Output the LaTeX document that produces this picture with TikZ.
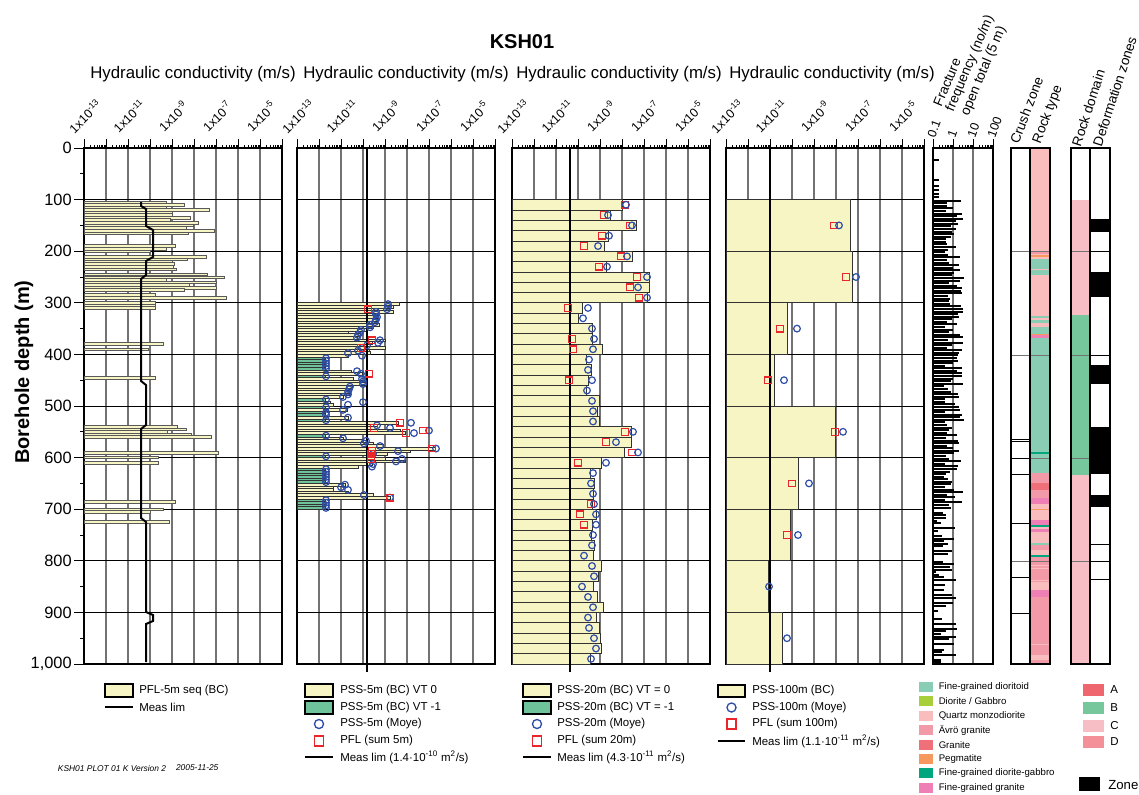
\documentclass[tikz,border=0pt]{standalone}
\usepackage{fontspec}
\setmainfont{Liberation Sans}
\definecolor{barY}{HTML}{F8F5C5}
\definecolor{barG}{HTML}{6FC39A}
\definecolor{moyeC}{HTML}{2E4DA7}
\definecolor{pflC}{HTML}{E8262C}
\definecolor{rFGD}{HTML}{88CDB4}
\definecolor{rDG}{HTML}{A8CE3C}
\definecolor{rQM}{HTML}{F9BDBD}
\definecolor{rAV}{HTML}{F29AA8}
\definecolor{rGR}{HTML}{F07079}
\definecolor{rPG}{HTML}{F7985E}
\definecolor{rFDG}{HTML}{00A67E}
\definecolor{rFGG}{HTML}{EE80B6}
\definecolor{dA}{HTML}{F0666E}
\definecolor{dB}{HTML}{76C89C}
\definecolor{dC}{HTML}{F7BEC5}
\definecolor{dD}{HTML}{F49098}
\newcommand\fTitle{\fontsize{15pt}{18pt}\selectfont\bfseries}
\newcommand\fHead{\fontsize{12.6pt}{15pt}\selectfont}
\newcommand\fTick{\fontsize{9.3pt}{11pt}\selectfont}
\newcommand\fDepth{\fontsize{12.3pt}{14pt}\selectfont}
\newcommand\fAxis{\fontsize{15pt}{18pt}\selectfont\bfseries}
\newcommand\fLeg{\fontsize{8.6pt}{10pt}\selectfont}
\newcommand\fRock{\fontsize{7.2pt}{9pt}\selectfont}
\newcommand\fCol{\fontsize{10.2pt}{12pt}\selectfont}
\newcommand\fFoot{\fontsize{6.3pt}{8pt}\selectfont\itshape}
\tikzset{
  gridv/.style={draw=black!55,line width=0.8pt},
  gridh/.style={draw=black,line width=0.5pt},
  framebox/.style={draw=black,line width=0.8pt},
  pflbar/.style={fill=barY,draw=black!65,line width=0.35pt},
  pssy/.style={fill=barY,draw=black!80,line width=0.5pt},
  pssg/.style={fill=barG,draw=black!80,line width=0.5pt},
  moye/.style={draw=moyeC,line width=0.9pt},
  pflsq/.style={draw=pflC,line width=0.9pt},
  measlim/.style={draw=black,line width=1.6pt},
  lbl/.style={font=\fLeg,anchor=west,inner sep=0pt},
  rlbl/.style={font=\fRock,anchor=west,inner sep=0pt},
  coltxt/.style={font=\fCol,rotate=72,anchor=west,inner sep=0pt},
  legbox/.style={draw=black,line width=0.8pt},
}
\begin{document}
\begin{tikzpicture}[x=0.75pt,y=-0.75pt]
\useasboundingbox (0,0) rectangle (1139,794);

% ---------- titles ----------
\node[font=\fTitle] (title) at (522,42) {KSH01};
\foreach \hx/\hn in {193/1,406/2,619/3,832/4}
  \node[font=\fHead] (head-\hn) at (\hx,74) {Hydraulic conductivity (m/s)};

% ---------- hydraulic panels: grid, ticks, labels ----------
\foreach \px/\pn in {84/1,297/2,512/3,726/4} {
  \foreach \k in {1,...,8} \draw[gridv] ({\px+22*\k},148) -- ({\px+22*\k},664);
  \foreach \d in {100,200,...,900} \draw[gridh] (\px,{148+0.516*\d}) -- ({\px+198},{148+0.516*\d});
  \draw[framebox] (\px,148) rectangle ({\px+198},664);
  \foreach \k in {0,...,9} {
    \draw[line width=0.6pt] ({\px+22*\k},148) -- ({\px+22*\k},139);
  }
  \foreach \k in {0,...,8} {
    \foreach \m in {2,...,9}
      \draw[line width=0.4pt] ({\px+22*\k+22*log10(\m)},148) -- ({\px+22*\k+22*log10(\m)},144.5);
  }
  \foreach \j/\e in {0/13,1/11,2/9,3/7,4/5}
    \node[font=\fTick,rotate=45,inner sep=0pt] (tl-\pn-\j) at ({\px+44*\j+1},116) {1x10\textsuperscript{-\e}};
}

% ---------- depth axis ----------
\foreach \d in {0,100,...,1000} \draw[line width=0.6pt] (74,{148+0.516*\d}) -- (84,{148+0.516*\d});
\foreach \d in {50,150,...,950} \draw[line width=0.6pt] (80,{148+0.516*\d}) -- (84,{148+0.516*\d});
\foreach \d/\t in {0/0,100/100,200/200,300/300,400/400,500/500,600/600,700/700,800/800,900/900,1000/{1,000}}
  \node[font=\fDepth,anchor=east,inner sep=0pt] (dl-\d) at (72,{148+0.516*\d}) {\t};
\node[font=\fAxis,rotate=90] (ylab) at (24,372) {Borehole depth (m)};

% ---------- panel 1: PFL-5m ----------
\foreach \y/\xe in {202.3/166,205/184,207.3/166,210/209,212.7/172,215/172,217.7/190,220/170,222.7/198,225.3/193,227.7/186,230.7/214,233.3/188,246/175,248.7/166,251.3/150,256.7/206,259.3/187,261.7/172,264/174,266.7/173,269.3/176,274.3/207,277.3/224,280/166,282.3/216,285/189,287.7/216,290/184,295/155,297.7/226,303/155,305.3/155,308/155,344/163,349.3/148,377.7/155,426.7/177,429.3/186,432/167,434.3/191,437/211,452.7/218,457.3/158,462.7/158,502/175,509.3/163,512/150,522/169}
  \draw[pflbar] (84,{\y-1.3}) rectangle (\xe,{\y+1.3});
\draw[line width=1.5pt] (141,202) -- (141,206) -- (146,209) -- (146,226) -- (153,230) -- (153,257) -- (146,261) -- (146,275) -- (141,279) -- (141,381) -- (146,385) -- (146,425) -- (141,429) -- (141,518) -- (146,522) -- (146,612) -- (153,615) -- (153,621) -- (146,624) -- (146,662);

% ---------- panel 2: PSS-5m ----------
\foreach \i/\xe in {0/399,1/393,2/390,3/393,4/379,5/378,6/378,7/369,8/379,9/373,10/367,11/348,12/360,13/357,14/385,15/372,16/367,17/385,18/369,19/370,20/348,26/351,27/362,29/353,30/362,31/367,32/352,33/349,34/348,35/350,36/343,38/330,39/333,41/347,44/348,46/398,47/370,48/377,49/400,50/405,52/343,53/362,54/373,55/383,56/435,57/410,58/387,60/385,61/405,62/372,63/358,70/345,71/333,72/333,73/348,74/373,75/390}
  \draw[pssy] (297,{302.8+2.58*\i}) rectangle (\xe,{302.8+2.58*(\i+1)});
\foreach \i in {21,22,23,24,25,28,37,40,42,43,45,51,59,64,65,66,67,68,69,76,77,78,79}
  \draw[pssg] (297,{302.8+2.58*\i}) rectangle (325,{302.8+2.58*(\i+1)});
\draw[measlim] (367,148) -- (367,672);
\foreach \i/\xc in {0/388,1/388,2/387,3/376,4/376,5/377,6/376,7/375,8/370,9/370,10/361,11/360,12/358,13/357,14/380,15/378,16/367,17/362,18/358,19/348,20/362,21/326,22/326,23/326,24/326,25/326,26/357,27/361,28/326,29/362,30/363,31/363,32/350,33/349,34/348,35/348,36/343,37/326,38/363,39/348,40/326,41/343,42/326,43/326,44/348,45/326,46/411,47/377,48/390,49/429,50/414,51/326,52/343,53/366,54/364,55/380,56/436,57/398,58/373,59/326,60/402,61/396,62/373,63/372,64/326,65/326,66/326,67/326,68/326,69/326,70/345,71/341,72/348,74/364,75/390,76/326,77/326,78/326,79/326}
  \draw[moye] (\xc,{302.8+2.58*\i+1.29}) circle (2.5pt);
\foreach \i/\xs in {2/368,14/372,17/361,27/369,46/400,48/374,49/423,50/406,56/432,57/372,58/371,59/371,60/371,75/390}
  \draw[pflsq] ({\xs-3.3},{302.8+2.58*\i+1.29-3.3}) rectangle ({\xs+3.3},{302.8+2.58*\i+1.29+3.3});

% ---------- panel 3: PSS-20m ----------
\foreach \i/\xe/\xc/\xs in {0/622/626/625,1/610/608/604,2/636/632/630,3/608/609/602,4/604/598/584,5/632/627/621,6/606/607/599,7/649/647/637,8/649/638/630,9/647/647/639,10/582/588/568,11/578/583/0,12/592/592/0,13/592/594/572,14/602/593/573,15/586/589/0,16/591/588/0,17/588/592/569,18/586/587/0,19/599/592/0,20/597/593/0,21/599/593/0,22/631/633/625,23/631/616/606,24/624/638/632,25/601/606/578,26/590/593/0,27/594/591/0,28/593/593/0,29/592/594/591,30/596/596/580,31/592/596/584,32/591/593/0,33/594/592/0,34/593/584/0,35/601/592/0,36/598/594/0,37/593/582/0,38/597/588/0,39/603/593/0,40/596/588/0,41/599/589/0,42/600/594/0,43/601/596/0,44/590/591/0}
  \draw[pssy] (512,{199.6+10.32*\i}) rectangle (\xe,{199.6+10.32*(\i+1)});
\draw[measlim] (570,148) -- (570,672);
\foreach \i/\xe/\xc/\xs in {0/622/626/625,1/610/608/604,2/636/632/630,3/608/609/602,4/604/598/584,5/632/627/621,6/606/607/599,7/649/647/637,8/649/638/630,9/647/647/639,10/582/588/568,11/578/583/0,12/592/592/0,13/592/594/572,14/602/593/573,15/586/589/0,16/591/588/0,17/588/592/569,18/586/587/0,19/599/592/0,20/597/593/0,21/599/593/0,22/631/633/625,23/631/616/606,24/624/638/632,25/601/606/578,26/590/593/0,27/594/591/0,28/593/593/0,29/592/594/591,30/596/596/580,31/592/596/584,32/591/593/0,33/594/592/0,34/593/584/0,35/601/592/0,36/598/594/0,37/593/582/0,38/597/588/0,39/603/593/0,40/596/588/0,41/599/589/0,42/600/594/0,43/601/596/0,44/590/591/0} {
  \ifnum\xs>0
    \draw[pflsq] ({\xs-3.3},{199.6+10.32*\i+5.16-3.3}) rectangle ({\xs+3.3},{199.6+10.32*\i+5.16+3.3});
  \fi
  \draw[moye] (\xc,{199.6+10.32*\i+5.16}) circle (2.5pt);
}

% ---------- panel 4: PSS-100m ----------
\foreach \i/\xe in {0/850,1/852,2/787,3/774,4/835,5/798,6/790,7/768,8/782}
  \draw[pssy,line width=0.7pt] (726,{199.6+51.6*\i}) rectangle (\xe,{199.6+51.6*(\i+1)});
\draw[measlim] (770,148) -- (770,672);
\foreach \i/\xc/\xs in {0/839/834,1/856/846,2/797/780,3/784/768,4/843/835,5/809/792,6/798/787,7/769/0,8/787/0} {
  \ifnum\xs>0
    \draw[pflsq] ({\xs-3.3},{199.6+51.6*\i+25.8-3.3}) rectangle ({\xs+3.3},{199.6+51.6*\i+25.8+3.3});
  \fi
  \draw[moye] (\xc,{199.6+51.6*\i+25.8}) circle (2.5pt);
}

% ---------- fracture frequency ----------
\draw[gridv] (953,148) -- (953,664);
\draw[gridv] (973,148) -- (973,664);
\foreach \y in {159,179,185,189,193,196}
  \fill (933,\y) rectangle (939,{\y+2});
\pgfmathsetseed{7}
\foreach \d in {100,105,...,695} {
  \pgfmathsetmacro{\L}{11+20*rnd}
  \fill (933,{148+0.516*\d}) rectangle ({933+\L},{148+0.516*\d+2});
}
\foreach \d in {700,705,...,995} {
  \pgfmathsetmacro{\R}{rnd}
  \pgfmathsetmacro{\L}{3+21*rnd}
  \ifdim\R pt>0.22pt
    \fill (933,{148+0.516*\d}) rectangle ({933+\L},{148+0.516*\d+2});
  \fi
}
\draw[framebox] (933,148) rectangle (993,664);
\foreach \k in {0,...,3} \draw[line width=0.6pt] ({933+20*\k},148) -- ({933+20*\k},139);
\foreach \k in {0,...,2} {
  \foreach \m in {2,...,9}
    \draw[line width=0.4pt] ({933+20*\k+20*log10(\m)},148) -- ({933+20*\k+20*log10(\m)},144.5);
}
\foreach \k/\t in {0/0.1,1/1,2/10,3/100}
  \node[font=\fTick,rotate=70,anchor=west,inner sep=0pt] (fl-\k) at ({931+20*\k},137) {\t};
\node[coltxt,rotate=-5] (ff1) at (937,106) {Fracture};
\node[coltxt,rotate=-5] (ff2) at (950,111) {frequency (no/m)};
\node[coltxt,rotate=-5] (ff3) at (965,115) {open total (5 m)};

% ---------- rock type ----------
\foreach \a/\b/\c in {149/252/rQM,252/253.5/rAV,253.5/255/rQM,255/256.5/rPG,256.5/259/rQM,259/275/rFGD,269/270.2/rQM,275/316/rQM,316/318/rFGD,318/320/rQM,320/323/rFGD,323/327/rQM,327/334/rFGD,334/335/rPG,335/338/rFGG,338/473/rFGD,452/454/rFDG,473/483/rAV,483/490/rGR,490/498/rAV,498/504/rFGG,504/509/rQM,509/510/rPG,510/520/rQM,520/525/rFGG,525/527/rFDG,527/529/rQM,529/532/rFGG,532/543/rQM,543/544.5/rFGD,544.5/550/rAV,550/555/rQM,555/556.5/rFDG,556.5/582/rAV,565/565.8/rQM,568/568.8/rQM,580/580.8/rQM,582/590/rQM,590/597/rFGG,597/655/rAV,644/645/rQM,655/660/rQM,660/664/rAV}
  \fill[\c] (1030,\a) rectangle (1050,\b);
\foreach \y in {251,355,458,561} \draw[draw=black!55,line width=0.6pt] (1030,\y) -- (1050,\y);

% ---------- crush zone ----------
\foreach \y in {251,355,561} \draw[draw=black!55,line width=0.6pt] (1011,\y) -- (1030,\y);
\foreach \y in {439,441.5,458,474,523,577,613} \draw[line width=0.6pt] (1011,\y) -- (1030,\y);
\draw[framebox] (1011,148) rectangle (1030,664);
\draw[framebox] (1030,148) rectangle (1050,664);

% ---------- rock domain ----------
\fill[dC] (1071,200) rectangle (1090,315);
\fill[dB] (1071,315) rectangle (1090,475);
\fill[dC] (1071,475) rectangle (1090,664);
\foreach \y in {251,355,458,561} \draw[draw=black!55,line width=0.6pt] (1071,\y) -- (1090,\y);

% ---------- deformation zones ----------
\foreach \a/\b in {219/232,272/297,365/384,427/474,495/507}
  \fill (1090,\a) rectangle (1110,\b);
\foreach \y in {251,355,544,561,579} \draw[line width=0.6pt] (1090,\y) -- (1110,\y);
\draw[framebox] (1071,148) rectangle (1090,664);
\draw[framebox] (1090,148) rectangle (1110,664);

\node[coltxt,rotate=-3] (hcz) at (1014,143) {Crush zone};
\node[coltxt,rotate=-3] (hrt) at (1037,143) {Rock type};
\node[coltxt] (hrd) at (1076,146) {Rock domain};
\node[coltxt] (hdz) at (1097,146) {Deformation zones};

% ---------- legends ----------
\draw[legbox,fill=barY] (105,684) rectangle (133,697);
\node[lbl] (l1a) at (139,690.5) {PFL-5m seq (BC)};
\draw[line width=1.6pt] (105,707) -- (133,707);
\node[lbl] (l1b) at (139,707) {Meas lim};

\draw[legbox,fill=barY] (305,684) rectangle (333,697);
\node[lbl] (l2a) at (340,690.5) {PSS-5m (BC) VT 0};
\draw[legbox,fill=barG] (305,701) rectangle (333,714);
\node[lbl] (l2b) at (340,707.5) {PSS-5m (BC) VT -1};
\draw[moye,line width=1pt] (319,724) circle (3.4pt);
\node[lbl] (l2c) at (340,724) {PSS-5m (Moye)};
\draw[pflsq,line width=1pt] (314.5,736) rectangle (323.5,746);
\node[lbl] (l2d) at (340,741) {PFL (sum 5m)};
\draw[line width=1.6pt] (305,757) -- (333,757);
\node[lbl] (l2e) at (340,757) {Meas lim (1.4·10\textsuperscript{-10} m\textsuperscript{2}/s)};

\draw[legbox,fill=barY] (523,684) rectangle (551,697);
\node[lbl] (l3a) at (557,690.5) {PSS-20m (BC) VT = 0};
\draw[legbox,fill=barG] (523,701) rectangle (551,714);
\node[lbl] (l3b) at (557,707.5) {PSS-20m (BC) VT = -1};
\draw[moye,line width=1pt] (537,724) circle (3.4pt);
\node[lbl] (l3c) at (557,724) {PSS-20m (Moye)};
\draw[pflsq,line width=1pt] (532.5,736) rectangle (541.5,746);
\node[lbl] (l3d) at (557,741) {PFL (sum 20m)};
\draw[line width=1.6pt] (523,757) -- (551,757);
\node[lbl] (l3e) at (557,757) {Meas lim (4.3·10\textsuperscript{-11} m\textsuperscript{2}/s)};

\draw[legbox,fill=barY] (718,685) rectangle (745,697);
\node[lbl] (l4a) at (752,690.5) {PSS-100m (BC)};
\draw[moye,line width=1pt] (731.5,707.5) circle (3.4pt);
\node[lbl] (l4b) at (752,707.5) {PSS-100m (Moye)};
\draw[pflsq,line width=1pt] (727,719) rectangle (736,729);
\node[lbl] (l4c) at (752,724) {PFL (sum 100m)};
\draw[line width=1.6pt] (718,741) -- (745,741);
\node[lbl] (l4d) at (752,741) {Meas lim (1.1·10\textsuperscript{-11} m\textsuperscript{2}/s)};

\foreach \y/\c/\t [count=\n] in {687/rFGD/{Fine-grained dioritoid},701.4/rDG/{Diorite / Gabbro},715.8/rQM/{Quartz monzodiorite},730.2/rAV/{Ävrö granite},744.6/rGR/{Granite},759/rPG/{Pegmatite},773.4/rFDG/{Fine-grained diorite-gabbro},787.8/rFGG/{Fine-grained granite}} {
  \fill[\c] (918.5,{\y-5}) rectangle (932.5,{\y+5});
  \node[rlbl] (rl-\n) at (938.5,\y) {\t};
}
\foreach \y/\c/\t in {690/dA/A,708/dB/B,726/dC/C,742/dD/D} {
  \fill[\c] (1083,{\y-6.3}) rectangle (1104,{\y+6.3});
  \node[font=\fontsize{8.6pt}{10pt}\selectfont,anchor=west,inner sep=0pt] (dl-\t) at (1110,\y) {\t};
}
\fill (1079,777) rectangle (1100,791);
\node[font=\fontsize{9.9pt}{12pt}\selectfont,anchor=west,inner sep=0pt] (zone) at (1108,785) {Zone};

\node[font=\fFoot,anchor=west,inner sep=0pt] (foot1) at (57.7,768) {KSH01 PLOT 01 K Version 2};
\node[font=\fFoot,anchor=west,inner sep=0pt] (foot2) at (175.8,768) {2005-11-25};
\end{tikzpicture}
\end{document}
